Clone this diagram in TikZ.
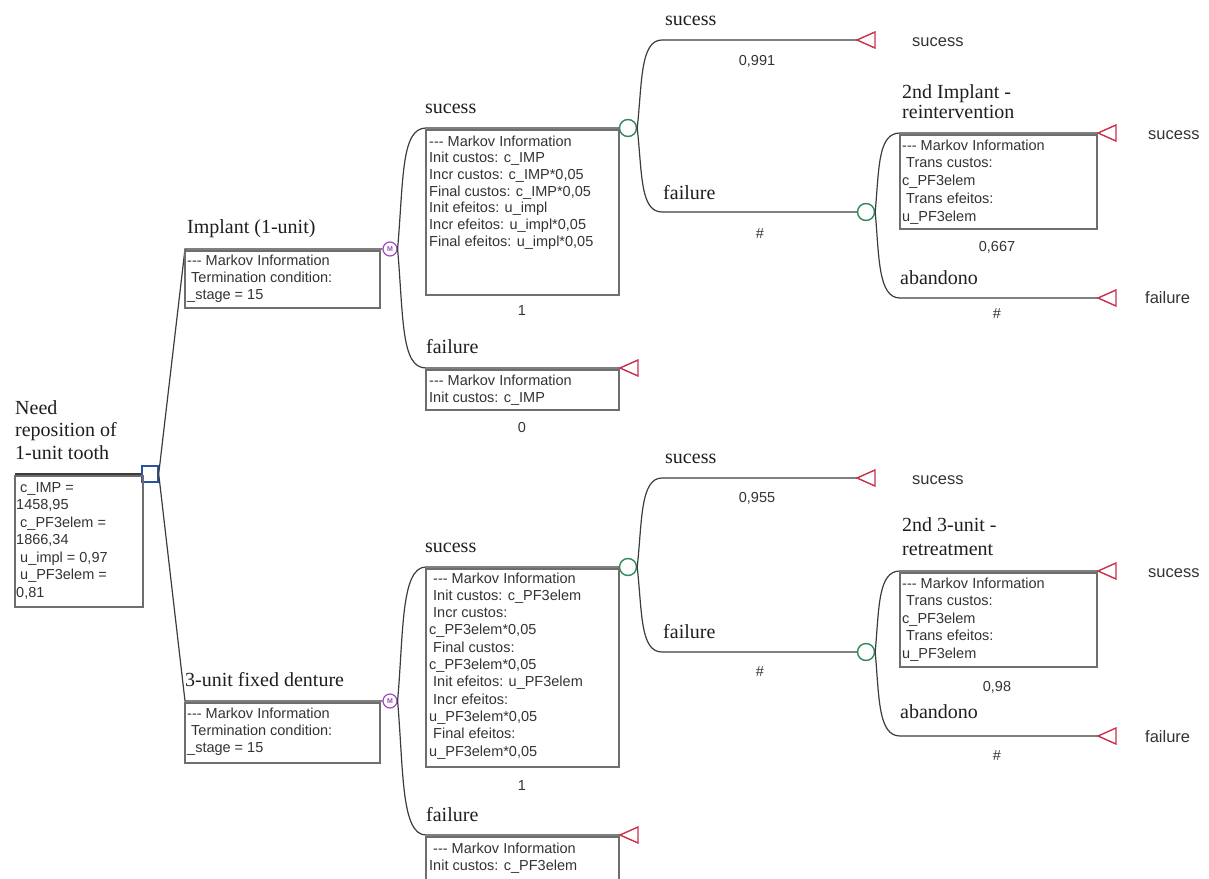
\documentclass[tikz,border=0pt]{standalone}
\usepackage{fontspec}
\setmainfont{Liberation Serif}
\setsansfont{Liberation Sans}
\newcommand\lsp{\hspace*{4pt}}
\newcommand\mkinfo{-{}-{}- Markov Information}
\definecolor{linec}{HTML}{3C3C3C}
\definecolor{boxc}{HTML}{6E6E6E}
\definecolor{infoc}{HTML}{333333}
\definecolor{lblc}{HTML}{1E1E1E}
\definecolor{chancec}{HTML}{2E8A58}
\definecolor{markovc}{HTML}{A048C0}
\definecolor{decc}{HTML}{2A52A0}
\definecolor{termc}{HTML}{C8324A}
\tikzset{
  br/.style={draw=linec, line width=1.2pt},
  mbox/.style={draw=boxc, line width=1.1pt},
  info/.style={font=\sffamily\fontsize{14.5}{17}\selectfont, text=infoc, align=left, inner sep=0pt, anchor=base west},
  lbl/.style={font=\fontsize{20}{22}\selectfont, text=lblc, align=left, inner sep=0pt, anchor=base west},
  prob/.style={font=\sffamily\fontsize{14.5}{17}\selectfont, text=infoc, inner sep=0pt, anchor=base},
  tlbl/.style={font=\sffamily\fontsize{16.5}{18}\selectfont, text=infoc, inner sep=0pt, anchor=base west},
  chance/.style={circle, draw=chancec, line width=1.4pt, minimum size=17pt, inner sep=0pt, fill=white},
  markov/.style={circle, draw=markovc, line width=1.2pt, minimum size=14pt, inner sep=0pt, fill=white, text=markovc, font=\sffamily\bfseries\fontsize{7}{7}\selectfont},
  decision/.style={rectangle, draw=decc, line width=1.4pt, minimum size=16pt, inner sep=0pt, fill=white},
  term/.style={draw=termc, line width=1.4pt, fill=white, line join=miter}
}
\begin{document}
\begin{tikzpicture}[x=1pt, y=-1pt]
\useasboundingbox (0,0) rectangle (1209,878);
\clip (0,0) rectangle (1209,878);

% (multi-line nodes: base anchor = baseline of their last line)

% ---------------- root ----------------
\node[decision] (root) at (150,474) {};
\coordinate (r0) at (15,474);
\draw[br] (r0) -- (root.west);
\draw[mbox] (15,476) rectangle (143,607);
\node[lbl, font=\fontsize{20}{22.5}\selectfont] (rootlbl) at (15,459) {Need\\reposition of\\1-unit tooth};
\node[info, font=\sffamily\fontsize{14.5}{17.5}\selectfont] (rootinfo) at (16,597) {\lsp c\_IMP =\\1458,95\\\lsp c\_PF3elem =\\1866,34\\\lsp u\_impl = 0,97\\\lsp u\_PF3elem =\\0,81};

% ---------------- Implant ----------------
\coordinate (i1) at (185,249);
\node[markov] (m1) at (390,249) {M};
\draw[br] (root.east) -- (i1) -- (m1.west);
\node[lbl] (l_imp) at (187,233) {Implant (1-unit)};
\draw[mbox] (185,251) rectangle (380,308);
\node[info] (inf_imp) at (187,299) {\mkinfo\\\lsp Termination condition:\\\_stage = 15};

% sucess branch of Implant
\coordinate (s1) at (426,128);
\node[chance] (c1) at (628,128) {};
\draw[br] (m1.east) .. controls +(6,-70) and +(-25,0) .. (s1) -- (c1.west);
\node[lbl] (l_s1) at (425,113) {sucess};
\draw[mbox] (426,130) rectangle (619,295);
\node[info, font=\sffamily\fontsize{14.5}{16.7}\selectfont] (inf_s1) at (429,246.2) {\mkinfo\\Init custos: c\_IMP\\Incr custos: c\_IMP*0,05\\Final custos: c\_IMP*0,05\\Init efeitos: u\_impl\\Incr efeitos: u\_impl*0,05\\Final efeitos: u\_impl*0,05};
\node[prob] (p_s1) at (522,315) {1};

% failure branch of Implant
\coordinate (f1) at (426,368);
\coordinate (t1) at (620,368);
\draw[br] (m1.east) .. controls +(6,70) and +(-25,0) .. (f1) -- (t1);
\draw[term] (t1) -- ++(18,-8) -- ++(0,16) -- cycle;
\node[lbl] (l_f1) at (426,353) {failure};
\draw[mbox] (426,370) rectangle (619,410);
\node[info] (inf_f1) at (429,402) {\mkinfo\\Init custos: c\_IMP};
\node[prob] (p_f1) at (522,432) {0};

% chance c1 -> sucess
\coordinate (s2) at (662,40);
\coordinate (t2) at (857,40);
\draw[br] (c1.east) .. controls +(5,-45) and +(-22,0) .. (s2) -- (t2);
\draw[term] (t2) -- ++(18,-8) -- ++(0,16) -- cycle;
\node[lbl] (l_s2) at (665,25) {sucess};
\node[prob] (p_s2) at (757,65) {0,991};
\node[tlbl] (e_s2) at (912,46) {sucess};

% chance c1 -> failure
\coordinate (f2) at (662,212);
\node[chance] (c3) at (866,212) {};
\draw[br] (c1.east) .. controls +(5,45) and +(-22,0) .. (f2) -- (c3.west);
\node[lbl] (l_f2) at (663,199) {failure};
\node[prob] (p_f2) at (760,238) {\#};

% c3 -> 2nd implant
\coordinate (s3) at (900,133);
\coordinate (t3) at (1098,133);
\draw[br] (c3.east) .. controls +(4,-45) and +(-22,0) .. (s3) -- (t3);
\draw[term] (t3) -- ++(18,-8) -- ++(0,16) -- cycle;
\node[lbl, font=\fontsize{20}{20}\selectfont] (l_s3) at (902,118) {2nd Implant -\\reintervention};
\draw[mbox] (900,135) rectangle (1097,229);
\node[info, font=\sffamily\fontsize{14.5}{17.8}\selectfont] (inf_s3) at (902,221.2) {\mkinfo\\\lsp Trans custos:\\c\_PF3elem\\\lsp Trans efeitos:\\u\_PF3elem};
\node[prob] (p_s3) at (997,251) {0,667};
\node[tlbl] (e_s3) at (1148,139) {sucess};

% c3 -> abandono
\coordinate (f3) at (900,298);
\coordinate (t4) at (1098,298);
\draw[br] (c3.east) .. controls +(4,45) and +(-22,0) .. (f3) -- (t4);
\draw[term] (t4) -- ++(18,-8) -- ++(0,16) -- cycle;
\node[lbl] (l_f3) at (900,284) {abandono};
\node[prob] (p_f3) at (997,318) {\#};
\node[tlbl] (e_f3) at (1145,303) {failure};

% ---------------- 3-unit fixed denture ----------------
\coordinate (i2) at (185,701);
\node[markov] (m2) at (390,701) {M};
\draw[br] (root.east) -- (i2) -- (m2.west);
\node[lbl] (l_fd) at (185,686) {3-unit fixed denture};
\draw[mbox] (185,703) rectangle (380,763);
\node[info] (inf_fd) at (187,752) {\mkinfo\\\lsp Termination condition:\\\_stage = 15};

% sucess branch of 3-unit
\coordinate (s4) at (426,567);
\node[chance] (c2) at (628,567) {};
\draw[br] (m2.east) .. controls +(6,-70) and +(-25,0) .. (s4) -- (c2.west);
\node[lbl] (l_s4) at (425,552) {sucess};
\draw[mbox] (426,569) rectangle (619,767);
\node[info, font=\sffamily\fontsize{14.5}{17.3}\selectfont] (inf_s4) at (429,756) {\lsp\mkinfo\\\lsp Init custos: c\_PF3elem\\\lsp Incr custos:\\c\_PF3elem*0,05\\\lsp Final custos:\\c\_PF3elem*0,05\\\lsp Init efeitos: u\_PF3elem\\\lsp Incr efeitos:\\u\_PF3elem*0,05\\\lsp Final efeitos:\\u\_PF3elem*0,05};
\node[prob] (p_s4) at (522,790) {1};

% failure branch of 3-unit
\coordinate (f4) at (426,835);
\coordinate (t5) at (620,835);
\draw[br] (m2.east) .. controls +(6,70) and +(-25,0) .. (f4) -- (t5);
\draw[term] (t5) -- ++(18,-8) -- ++(0,16) -- cycle;
\node[lbl] (l_f4) at (426,821) {failure};
\draw[mbox] (426,837) rectangle (619,884);
\node[info] (inf_f4) at (429,870) {\lsp\mkinfo\\Init custos: c\_PF3elem};

% chance c2 -> sucess
\coordinate (s5) at (662,478);
\coordinate (t6) at (857,478);
\draw[br] (c2.east) .. controls +(5,-45) and +(-22,0) .. (s5) -- (t6);
\draw[term] (t6) -- ++(18,-8) -- ++(0,16) -- cycle;
\node[lbl] (l_s5) at (665,463) {sucess};
\node[prob] (p_s5) at (757,502) {0,955};
\node[tlbl] (e_s5) at (912,484) {sucess};

% chance c2 -> failure
\coordinate (f5) at (662,652);
\node[chance] (c4) at (866,652) {};
\draw[br] (c2.east) .. controls +(5,45) and +(-22,0) .. (f5) -- (c4.west);
\node[lbl] (l_f5) at (663,638) {failure};
\node[prob] (p_f5) at (760,676) {\#};

% c4 -> 2nd 3-unit
\coordinate (s6) at (900,571);
\coordinate (t7) at (1098,571);
\draw[br] (c4.east) .. controls +(4,-45) and +(-22,0) .. (s6) -- (t7);
\draw[term] (t7) -- ++(18,-8) -- ++(0,16) -- cycle;
\node[lbl, font=\fontsize{20}{24}\selectfont] (l_s6) at (902,555) {2nd 3-unit -\\retreatment};
\draw[mbox] (900,573) rectangle (1097,667);
\node[info, font=\sffamily\fontsize{14.5}{17.5}\selectfont] (inf_s6) at (902,658) {\mkinfo\\\lsp Trans custos:\\c\_PF3elem\\\lsp Trans efeitos:\\u\_PF3elem};
\node[prob] (p_s6) at (997,691) {0,98};
\node[tlbl] (e_s6) at (1148,577) {sucess};

% c4 -> abandono
\coordinate (f6) at (900,736);
\coordinate (t8) at (1098,736);
\draw[br] (c4.east) .. controls +(4,45) and +(-22,0) .. (f6) -- (t8);
\draw[term] (t8) -- ++(18,-8) -- ++(0,16) -- cycle;
\node[lbl] (l_f6) at (900,718) {abandono};
\node[prob] (p_f6) at (997,760) {\#};
\node[tlbl] (e_f6) at (1145,742) {failure};
\end{tikzpicture}
\end{document}
